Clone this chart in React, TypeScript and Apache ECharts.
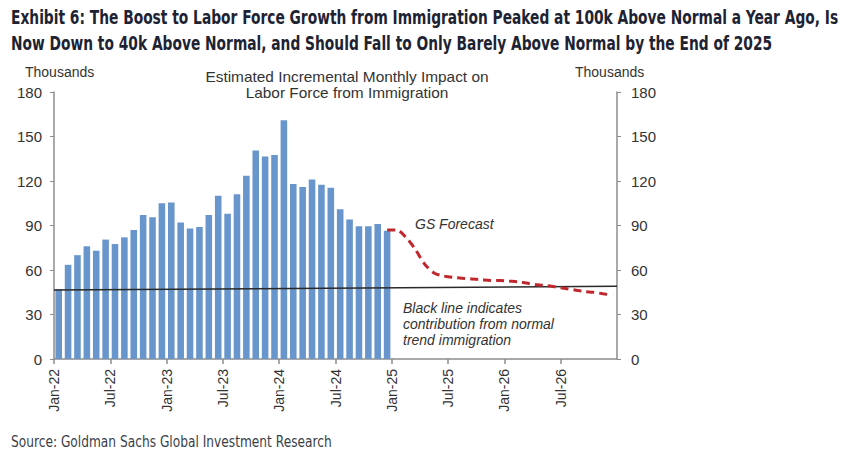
import React, { useEffect, useRef } from "react";
import * as echarts from "echarts";

const monthNames = ["Jan", "Feb", "Mar", "Apr", "May", "Jun", "Jul", "Aug", "Sep", "Oct", "Nov", "Dec"];
const years = ["22", "23", "24", "25", "26"];
const categories: string[] = [];
years.forEach((y) => monthNames.forEach((m) => categories.push(`${m}-${y}`)));

// Monthly incremental impact, Jan-22 .. Dec-24 (thousands)
const barValues = [
  47, 63.5, 70, 76, 73, 80.5, 77.5, 82, 87, 97, 95.5, 105,
  105.5, 92, 88, 89, 97, 110, 98, 111, 123.5, 140.5, 136.5, 137.5,
  161, 118, 116, 121, 117.5, 115.5, 101, 94, 89.5, 89.5, 91, 86.5,
];

// GS forecast, Dec-24 .. Dec-26
const forecastValues = [
  87, 87, 82, 74, 64, 58, 56, 55, 54.5, 54, 53.5, 53, 53,
  52.5, 52, 51, 50, 49.5, 48.5, 47.5, 46.5, 45.5, 45, 44, 43,
];
const forecastStartIndex = 35;

// Normal trend immigration contribution (start / end of period)
const trendLine = [46.5, 49];

const yTicks = [0, 30, 60, 90, 120, 150, 180];

const titleLine1 =
  "Exhibit 6: The Boost to Labor Force Growth from Immigration Peaked at 100k Above Normal a Year Ago, Is";
const titleLine2 =
  "Now Down to 40k Above Normal, and Should Fall to Only Barely Above Normal by the End of 2025";
const sourceText = "Source: Goldman Sachs Global Investment Research";

function measure(text: string, font: string): number {
  const c = document.createElement("canvas").getContext("2d");
  if (!c) return 0;
  c.font = font;
  return c.measureText(text).width;
}

export default function App() {
  const ref = useRef<HTMLDivElement>(null);
  useEffect(() => {
    if (!ref.current) return;
    const chart = echarts.init(ref.current, null, { renderer: "svg" });
    const axisGrey = "#8c8c8c";
    const labelFont = "'Liberation Sans', Arial, sans-serif";
    const narrowFont = "'DejaVu Sans Condensed', 'Liberation Sans', sans-serif";
    const titleW = measure(titleLine1, `bold 20px ${narrowFont}`) || 1000;
    const titleScale = 828 / titleW;
    const srcW = measure(sourceText, `16px ${narrowFont}`) || 340;
    const srcScale = 321 / srcW;
    const n = categories.length;
    chart.setOption({
      animation: false,
      backgroundColor: "#ffffff",
      grid: { left: 54, right: 231, top: 92, bottom: 100, containLabel: false },
      xAxis: [
        {
          type: "category",
          data: categories,
          boundaryGap: true,
          axisLine: { show: true, lineStyle: { color: axisGrey, width: 1.5 } },
          axisTick: { show: false },
          axisLabel: { show: false },
          splitLine: { show: false },
        },
        {
          type: "value",
          min: 0,
          max: n,
          interval: 6,
          position: "bottom",
          axisLine: { show: false },
          axisTick: { show: true, length: 5, lineStyle: { color: axisGrey, width: 1.5 } },
          splitLine: { show: false },
          axisLabel: {
            rotate: 90,
            margin: 10,
            color: "#333",
            fontSize: 14,
            fontFamily: labelFont,
            showMaxLabel: false,
            formatter: (v: number) => (v < n ? categories[v] : ""),
          },
        },
      ],
      yAxis: [
        {
          type: "value",
          min: yTicks[0],
          max: yTicks[yTicks.length - 1],
          interval: 30,
          position: "left",
          axisLine: { show: true, lineStyle: { color: axisGrey, width: 1.5 } },
          axisTick: { show: true, inside: false, length: 4, lineStyle: { color: axisGrey } },
          splitLine: { show: false },
          axisLabel: { color: "#333", fontSize: 15, fontFamily: labelFont, margin: 12 },
        },
        {
          type: "value",
          min: yTicks[0],
          max: yTicks[yTicks.length - 1],
          interval: 30,
          position: "right",
          axisLine: { show: true, lineStyle: { color: axisGrey, width: 1.5 } },
          axisTick: { show: true, inside: false, length: 4, lineStyle: { color: axisGrey } },
          splitLine: { show: false },
          axisLabel: { color: "#333", fontSize: 15, fontFamily: labelFont, margin: 14 },
        },
      ],
      series: [
        {
          type: "bar",
          xAxisIndex: 0,
          yAxisIndex: 0,
          data: barValues,
          barWidth: "70%",
          itemStyle: { color: "#6896cc" },
          z: 2,
        },
        {
          type: "line",
          xAxisIndex: 1,
          yAxisIndex: 0,
          data: [
            [0, trendLine[0]],
            [n, trendLine[1]],
          ],
          symbol: "none",
          lineStyle: { color: "#2a2a2a", width: 1.5 },
          z: 3,
        },
        {
          type: "line",
          xAxisIndex: 1,
          yAxisIndex: 0,
          data: forecastValues.map((v, i) => [forecastStartIndex + i + 0.5, v]),
          symbol: "none",
          smooth: 0.3,
          lineStyle: { color: "#c0282d", width: 3, type: [8, 5] },
          z: 4,
        },
      ],
      graphic: [
        {
          type: "text",
          x: 11,
          y: 17,
          scaleX: titleScale,
          style: {
            text: titleLine1,
            fontFamily: narrowFont,
            fontWeight: "bold",
            fontSize: 20,
            fill: "#1d2333",
            verticalAlign: "middle",
          },
        },
        {
          type: "text",
          x: 11,
          y: 43,
          scaleX: titleScale,
          style: {
            text: titleLine2,
            fontFamily: narrowFont,
            fontWeight: "bold",
            fontSize: 20,
            fill: "#1d2333",
            verticalAlign: "middle",
          },
        },
        {
          type: "text",
          x: 25,
          y: 72,
          style: { text: "Thousands", fontFamily: labelFont, fontSize: 14, fill: "#333", verticalAlign: "middle" },
        },
        {
          type: "text",
          x: 575,
          y: 72,
          style: { text: "Thousands", fontFamily: labelFont, fontSize: 14, fill: "#333", verticalAlign: "middle" },
        },
        {
          type: "text",
          x: 347,
          y: 69,
          scaleX: 1.1,
          style: {
            text: "Estimated Incremental Monthly Impact on\nLabor Force from Immigration",
            fontFamily: labelFont,
            fontSize: 14,
            lineHeight: 16,
            fill: "#333",
            align: "center",
          },
        },
        {
          type: "text",
          x: 415,
          y: 217,
          style: { text: "GS Forecast", fontFamily: labelFont, fontStyle: "italic", fontSize: 14, fill: "#333" },
        },
        {
          type: "text",
          x: 403,
          y: 300,
          style: {
            text: "Black line indicates\ncontribution from normal\ntrend immigration",
            fontFamily: labelFont,
            fontStyle: "italic",
            fontSize: 14,
            lineHeight: 16,
            fill: "#333",
          },
        },
        {
          type: "text",
          x: 11,
          y: 441,
          scaleX: srcScale,
          style: {
            text: sourceText,
            fontFamily: narrowFont,
            fontSize: 16,
            fill: "#3a3f4a",
            verticalAlign: "middle",
          },
        },
      ],
    });
    return () => chart.dispose();
  }, []);
  return (
    <div
      ref={ref}
      style={{ position: "fixed", left: 0, top: 0, width: 848, height: 459, background: "#fff" }}
    />
  );
}
